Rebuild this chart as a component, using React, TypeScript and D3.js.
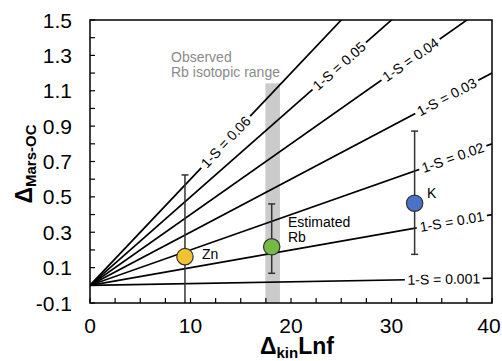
import React from "react";
import * as d3 from "d3";

const W = 502;
const H = 361;
const M = { left: 90, right: 10, top: 20, bottom: 58 };

const slopes = [0.06, 0.05, 0.04, 0.03, 0.02, 0.01, 0.001];
const slopeLabels = ["1-S = 0.06", "1-S = 0.05", "1-S = 0.04", "1-S = 0.03", "1-S = 0.02", "1-S = 0.01", "1-S = 0.001"];
const labelAtX = [13.5, 24.8, 31.9, 35.5, 36.1, 36.0, 35.2];

const elements = ["Zn", "Rb", "K"];
const elemX = [9.45, 18.08, 32.3];
const elemY = [0.162, 0.218, 0.464];
const elemLo = [-0.3, 0.068, 0.175];
const elemHi = [0.624, 0.46, 0.872];
const elemColors = ["#F1C232", "#77B947", "#4A72C8"];

const yTickLabels = [-0.1, 0.1, 0.3, 0.5, 0.7, 0.9, 1.1, 1.3, 1.5];
const xTickLabels = [0, 10, 20, 30, 40];

const bandX = [17.45, 18.9];
const bandTop = 1.142;

const FONT = "'Liberation Sans', Arial, Helvetica, sans-serif";

export default function App() {
  const x = d3.scaleLinear().domain([0, 40]).range([M.left, W - M.right]);
  const y = d3.scaleLinear().domain([-0.1, 1.5]).range([H - M.bottom, M.top]);
  const x0 = x(0), x1 = x(40), y0 = y(-0.1), y1 = y(1.5);

  const yTicks = d3.range(-0.1, 1.5001, 0.1);
  const xTicks = d3.range(0, 40.001, 2.5);

  const line = d3.line<[number, number]>().x((d) => x(d[0])).y((d) => y(d[1]));

  return (
    <div style={{ position: "fixed", left: 0, top: 0 }}>
      <svg width={W} height={H} style={{ display: "block", fontFamily: FONT }}>
        <defs>
          <clipPath id="plot">
            <rect x={x0} y={y1} width={x1 - x0} height={y0 - y1} />
          </clipPath>
        </defs>
        <rect width={W} height={H} fill="#fff" />
        {/* gray band */}
        <rect x={x(bandX[0])} y={y(bandTop)} width={x(bandX[1]) - x(bandX[0])} height={y0 - y(bandTop)} fill="#cbcbcb" />
        <text x={171} y={62} fill="#8a8a8a" fontSize={14}>Observed</text>
        <text x={171} y={77} fill="#8a8a8a" fontSize={14}>Rb isotopic range</text>

        {/* lines */}
        <g clipPath="url(#plot)">
          {slopes.map((s, i) => (
            <path key={i} d={line([[0, 0], [40, s * 40]]) || ""} stroke="#000" strokeWidth={1.7} fill="none" />
          ))}
        </g>
        {slopes.map((s, i) => {
          const lx = x(labelAtX[i]);
          const ly = y(s * labelAtX[i]);
          const ang = (Math.atan2(y(0) - y(s), x(1) - x(0)) * 180) / Math.PI;
          const fs = 14;
          const w = slopeLabels[i].length * fs * 0.48 + 4;
          return (
            <g key={i} transform={`translate(${lx},${ly}) rotate(${-ang})`}>
              <rect x={-w / 2} y={-6} width={w} height={12} fill="#fff" />
              <text x={0} y={0} dy="0.35em" textAnchor="middle" fontSize={fs} fill="#000">
                {slopeLabels[i]}
              </text>
            </g>
          );
        })}

        {/* error bars and points */}
        <g clipPath="url(#plot)">
          {elements.map((e, i) => (
            <g key={e}>
              <line x1={x(elemX[i])} x2={x(elemX[i])} y1={y(elemLo[i])} y2={y(elemHi[i])} stroke="#333" strokeWidth={1.5} />
              <line x1={x(elemX[i]) - 3.5} x2={x(elemX[i]) + 3.5} y1={y(elemHi[i])} y2={y(elemHi[i])} stroke="#333" strokeWidth={1.5} />
              <line x1={x(elemX[i]) - 3.5} x2={x(elemX[i]) + 3.5} y1={y(elemLo[i])} y2={y(elemLo[i])} stroke="#333" strokeWidth={1.5} />
              <circle cx={x(elemX[i])} cy={y(elemY[i])} r={8.2} fill={elemColors[i]} stroke="#333" strokeWidth={1.2} />
            </g>
          ))}
        </g>
        <text x={202} y={259} fontSize={14}>Zn</text>
        <text x={288} y={227} fontSize={14}>Estimated</text>
        <text x={288} y={242} fontSize={14}>Rb</text>
        <text x={427} y={198} fontSize={14}>K</text>

        {/* frame */}
        <rect x={x0} y={y1} width={x1 - x0} height={y0 - y1} fill="none" stroke="#000" strokeWidth={1.5} />
        {yTicks.map((t, i) => (
          <line key={i} x1={x0} x2={x0 + 5} y1={y(t)} y2={y(t)} stroke="#000" strokeWidth={1.2} />
        ))}
        {xTicks.map((t, i) => (
          <line key={i} x1={x(t)} x2={x(t)} y1={y0} y2={y0 - 5} stroke="#000" strokeWidth={1.2} />
        ))}
        {yTickLabels.map((t) => (
          <text key={t} x={72} y={y(t)} dy="0.36em" textAnchor="end" fontSize={21}>
            {t.toFixed(1)}
          </text>
        ))}
        {xTickLabels.map((t) => (
          <text key={t} x={Math.min(x(t), W - 13)} y={333} textAnchor="middle" fontSize={21}>
            {t}
          </text>
        ))}

        {/* axis titles */}
        <text x={297} y={354} textAnchor="middle" fontWeight="bold" fontSize={23}>
          Δ<tspan fontSize={15} dy={4}>kin</tspan>
          <tspan dy={-4}>Lnf</tspan>
        </text>
        <text transform={`translate(32,164) rotate(-90)`} textAnchor="middle" fontWeight="bold" fontSize={23}>
          Δ<tspan fontSize={15} dy={4}>Mars-OC</tspan>
        </text>
      </svg>
    </div>
  );
}
